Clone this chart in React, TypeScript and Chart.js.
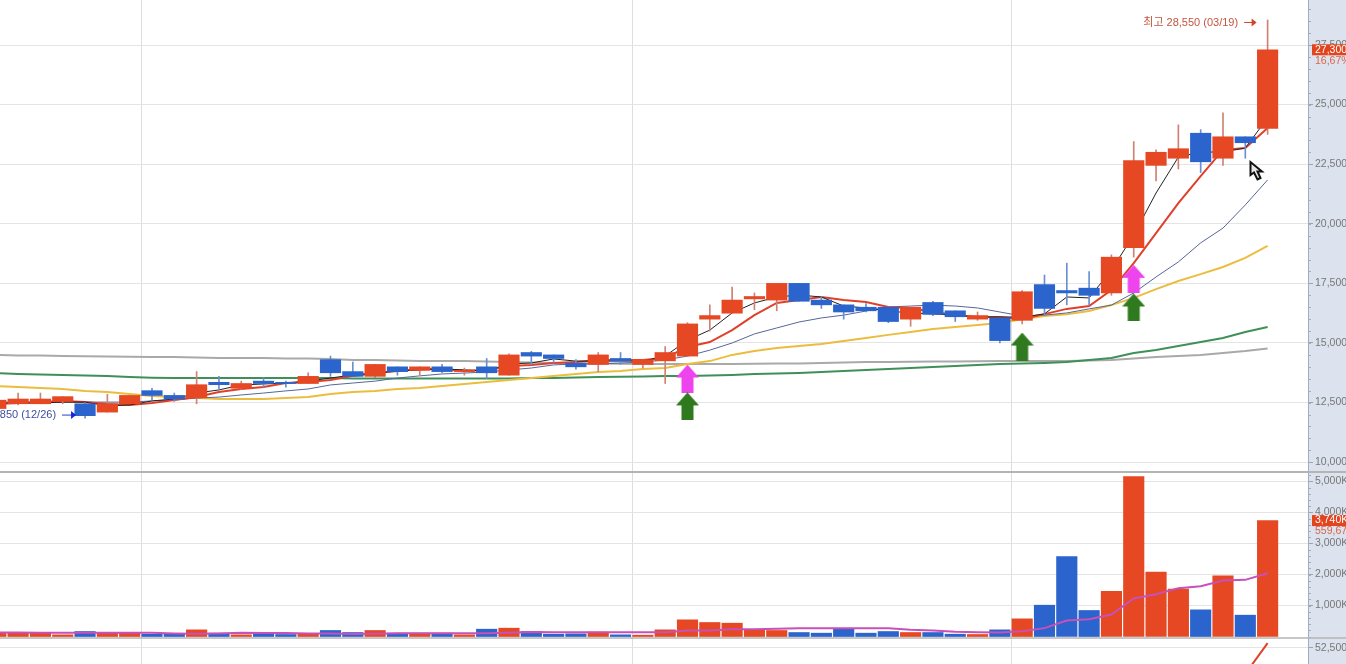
import { useEffect, useRef } from 'react'
import { Chart, registerables } from 'chart.js'

Chart.register(...registerables)

const opens = [
  12250, 12450, 12450, 12550, 12450, 12100, 12450, 13000, 12800, 12700,
  13350, 13100, 13400, 13350, 13300, 14300, 13800, 13600, 14000, 13850,
  14000, 13800, 14000, 13650, 14600, 14500, 14150, 14100, 14350, 14100,
  14250, 14450, 16000, 16250, 16850, 16800, 17500, 16800, 16600, 16500,
  16500, 16000, 16700, 16350, 16000, 16050, 15950, 17450, 17200, 17300,
  17100, 19000, 22450, 22750, 23800, 22750, 23650, 24000,
]
const highs = [
  12600, 12900, 12900, 12750, 12500, 12850, 12800, 13100, 12900, 13800,
  13600, 13400, 13550, 13400, 13750, 14450, 14200, 14100, 14000, 14000,
  14100, 13950, 14350, 14550, 14650, 14500, 14300, 14600, 14600, 14300,
  14850, 15850, 16600, 17350, 17100, 17500, 17500, 16950, 16600, 16650,
  16500, 16500, 16750, 16350, 16300, 16050, 17200, 17850, 18350, 18000,
  18700, 23450, 23100, 24150, 23950, 24650, 23650, 28550,
]
const lows = [
  12250, 12400, 12450, 12450, 11850, 12100, 12450, 12600, 12550, 12450,
  13050, 13050, 13150, 13150, 13300, 13600, 13600, 13550, 13650, 13650,
  13750, 13650, 13500, 13650, 14100, 14150, 13900, 13800, 14100, 13950,
  13300, 14450, 15500, 16250, 16400, 16350, 16750, 16450, 16000, 16300,
  15850, 15700, 16150, 15900, 15950, 15000, 15800, 16150, 16600, 16600,
  17000, 18600, 21800, 22300, 22150, 22450, 22750, 23750,
]
const closes = [
  12600, 12650, 12650, 12750, 11950, 12450, 12800, 12800, 12650, 13250,
  13250, 13300, 13300, 13300, 13600, 13750, 13600, 14100, 13800, 14000,
  13800, 13850, 13750, 14500, 14450, 14350, 14000, 14500, 14250, 14300,
  14600, 15800, 16150, 16800, 16950, 17500, 16750, 16600, 16300, 16350,
  15900, 16500, 16200, 16100, 16150, 15100, 17150, 16450, 17100, 17000,
  18600, 22650, 23000, 23150, 22600, 23650, 23400, 27300,
]

const maBlack = [
  12480, 12480, 12480, 12520, 12520, 12360, 12400, 12570, 12650, 12900,
  13030, 13240, 13280, 13320, 13400, 13530, 13660, 13740, 13820, 13870,
  13910, 13870, 13820, 14120, 14160, 14330, 14240, 14240, 14240, 14240,
  14450, 15120, 15540, 16260, 16680, 16930, 17010, 16930, 16550, 16470,
  16340, 16260, 16220, 16170, 16090, 16090, 16090, 16220, 16930, 16890,
  18060, 19530, 21290, 22800, 23010, 23010, 23180, 24440,
]
const maRed = [
  12440, 12480, 12520, 12570, 12520, 12440, 12400, 12480, 12610, 12730,
  12940, 13070, 13150, 13320, 13360, 13450, 13620, 13740, 13820, 13910,
  13910, 13840, 13870, 14030, 14080, 14160, 14200, 14290, 14290, 14290,
  14370, 14830, 15040, 15540, 16170, 16680, 16800, 16930, 16800, 16720,
  16510, 16470, 16300, 16170, 16090, 16090, 16000, 16210, 16430, 16550,
  17220, 18350, 19610, 20870, 22000, 23100, 23180, 24020,
]
const maNavy = [
  12520, 12520, 12520, 12520, 12520, 12520, 12520, 12570, 12610, 12690,
  12730, 12820, 12900, 12990, 13070, 13240, 13320, 13400, 13530, 13620,
  13700, 13740, 13780, 13870, 13950, 14080, 14120, 14120, 14160, 14200,
  14290, 14450, 14700, 15000, 15380, 15630, 15880, 16050, 16170, 16340,
  16510, 16550, 16590, 16550, 16470, 16300, 16130, 16170, 16260, 16430,
  16590, 17100, 17770, 18400, 19200, 19820, 20790, 21840,
]
const maYellow = [
  13195, 13150, 13110, 13070, 12985, 12940, 12860, 12775, 12730, 12690,
  12650, 12650, 12650, 12690, 12730, 12860, 12940, 12990, 13070, 13110,
  13195, 13280, 13360, 13450, 13530, 13615, 13700, 13780, 13820, 13910,
  13950, 14120, 14240, 14500, 14660, 14790, 14870, 14960, 15080, 15210,
  15340, 15460, 15590, 15670, 15750, 15840, 16000, 16130, 16210, 16340,
  16590, 16890, 17260, 17600, 17890, 18190, 18570, 19070,
]
const maGreen = [
  13740, 13700, 13680, 13660, 13640, 13615, 13570, 13540, 13530, 13530,
  13530, 13530, 13530, 13530, 13530, 13530, 13510, 13510, 13510, 13510,
  13510, 13510, 13510, 13510, 13530, 13530, 13550, 13570, 13585, 13590,
  13615, 13615, 13640, 13660, 13700, 13720, 13740, 13780, 13825, 13870,
  13910, 13950, 13990, 14035, 14075, 14120, 14140, 14160, 14200, 14285,
  14370, 14580, 14705, 14870, 15040, 15210, 15460, 15670,
]
const maGray = [
  14500, 14480, 14470, 14450, 14440, 14430, 14425, 14410, 14410, 14390,
  14370, 14370, 14370, 14350, 14350, 14330, 14290, 14290, 14265, 14245,
  14245, 14245, 14225, 14200, 14180, 14160, 14150, 14140, 14130, 14120,
  14120, 14120, 14120, 14120, 14130, 14140, 14140, 14160, 14180, 14200,
  14200, 14215, 14225, 14225, 14230, 14245, 14245, 14245, 14245, 14265,
  14285, 14350, 14410, 14450, 14500, 14580, 14660, 14770,
]

const volumes = [
  108, 108, 108, 54, 161, 129, 129, 75, 75, 215,
  108, 54, 108, 65, 75, 194, 129, 194, 108, 108,
  108, 54, 236, 269, 161, 75, 86, 140, 54, 43,
  215, 538, 452, 430, 215, 194, 129, 108, 236, 108,
  161, 129, 129, 75, 65, 215, 570, 1010, 2580, 840,
  1460, 5160, 2075, 1527, 860, 1957, 688, 3740,
]
const volumeMa = [
  129, 129, 125, 120, 118, 120, 125, 122, 100, 90,
  100, 120, 115, 110, 100, 95, 85, 90, 108, 108,
  108, 108, 108, 120, 145, 140, 135, 140, 140, 140,
  140, 194, 194, 236, 236, 247, 269, 269, 269, 269,
  269, 215, 194, 150, 140, 130, 172, 270, 516, 560,
  710, 1226, 1366, 1560, 1624, 1806, 1828, 2043,
]

// third pane, only the last stretch of its line shows
const lowerLine = [{ x: 55, y: 48200 }, { x: 56, y: 50350 }, { x: 57, y: 52900 }]

const monthBreaks = [6.53, 28.55, 45.52]
const priceTicks = [10000, 12500, 15000, 17500, 20000, 22500, 25000, 27500]
const volumeTicks = [1000, 2000, 3000, 4000, 5000]
const lowerTicks = [52500]

const greenArrows = [{ x: 31, y: 12340 }, { x: 46, y: 14850 }, { x: 51, y: 16490 }]
const pinkArrows = [{ x: 31, y: 13510 }, { x: 51, y: 17690 }]

const RED = '#e64823'
const BLUE = '#2b64cc'
const AXIS_FONT = '"Liberation Sans", "Noto Sans CJK KR", sans-serif'

const series = (values: number[]) => values.map((y, x) => ({ x, y }))
const isUp = (i: number) => closes[i] >= opens[i]
const fmt = (v: number) => v.toLocaleString('en-US')

function arrowImage(color: string) {
  const c = document.createElement('canvas')
  c.width = 23
  c.height = 28
  const g = c.getContext('2d')!
  g.fillStyle = color
  g.beginPath()
  g.moveTo(11.5, 0)
  g.lineTo(23, 13)
  g.lineTo(17.5, 13)
  g.lineTo(17.5, 28)
  g.lineTo(5.5, 28)
  g.lineTo(5.5, 13)
  g.lineTo(0, 13)
  g.closePath()
  g.fill()
  return c
}

function lineSet(values: number[], color: string, width: number, order: number) {
  return {
    type: 'line' as const,
    data: series(values),
    yAxisID: 'y',
    borderColor: color,
    borderWidth: width,
    pointRadius: 0,
    tension: 0,
    order,
  }
}

function paneTicks(list: number[], suffix: string) {
  return {
    position: 'right' as const,
    stack: 'panes',
    bounds: 'data' as const,
    afterBuildTicks: (s: any) => { s.ticks = list.map(value => ({ value })) },
    afterFit: (s: any) => { s.width = 38; s.paddingTop = 0; s.paddingBottom = 0 },
    grid: { color: '#e4e4e4', tickColor: '#9aa4b4', tickLength: 5 },
    border: { color: '#a4aebd' },
    ticks: {
      autoSkip: false,
      padding: 2,
      color: '#777',
      font: { family: AXIS_FONT, size: 10.5 },
      callback: (v: any) => fmt(v) + suffix,
    },
  }
}

const paneDecor = {
  id: 'paneDecor',
  beforeDraw(chart: any) {
    const { ctx, width, height, chartArea, scales } = chart
    ctx.save()
    ctx.fillStyle = '#dce3ee'
    ctx.fillRect(chartArea.right, 0, width - chartArea.right, height)
    // minor ticks
    ctx.strokeStyle = '#a6afbe'
    ctx.lineWidth = 1
    const minor = (scale: any, from: number, to: number, step: number) => {
      for (let v = from; v <= to; v += step) {
        const y = Math.round(scale.getPixelForValue(v)) + 0.5
        if (y < scale.top || y > scale.bottom) continue
        ctx.beginPath()
        ctx.moveTo(chartArea.right, y)
        ctx.lineTo(chartArea.right + 3, y)
        ctx.stroke()
      }
    }
    minor(scales.y, 10000, 29000, 500)
    minor(scales.yv, 0, 5200, 200)
    ctx.restore()
  },
  afterDraw(chart: any) {
    const { ctx, width, chartArea, scales } = chart
    const { x, y, yv } = scales
    ctx.save()

    // pane separators
    ctx.strokeStyle = '#b4b4b4'
    ctx.lineWidth = 2
    ctx.beginPath()
    ctx.moveTo(0, y.bottom)
    ctx.lineTo(width, y.bottom)
    ctx.stroke()
    ctx.lineWidth = 1.5
    ctx.beginPath()
    ctx.moveTo(0, yv.bottom)
    ctx.lineTo(width, yv.bottom)
    ctx.stroke()

    // last price and volume tags
    const tag = (py: number, label: string, sub: string) => {
      ctx.fillStyle = '#e3441e'
      ctx.fillRect(chartArea.right + 4, py - 5.5, width - chartArea.right - 4, 11)
      ctx.font = `10.5px ${AXIS_FONT}`
      ctx.textAlign = 'left'
      ctx.textBaseline = 'middle'
      ctx.fillStyle = '#fff'
      ctx.fillText(label, chartArea.right + 7, py)
      ctx.fillStyle = '#d9654a'
      ctx.fillText(sub, chartArea.right + 7, py + 11)
    }
    tag(y.getPixelForValue(closes[57]), fmt(closes[57]), '16,67%')
    tag(yv.getPixelForValue(volumes[57]), '3,740K', '559,67')

    // high / low notes
    ctx.font = `11px ${AXIS_FONT}`
    ctx.textBaseline = 'middle'
    const highX = x.getPixelForValue(57)
    const highY = y.getPixelForValue(28550) + 2.5
    ctx.textAlign = 'right'
    ctx.fillStyle = '#c4563f'
    ctx.fillText('최고 28,550 (03/19)', highX - 29.5, highY)
    ctx.strokeStyle = '#d2452a'
    ctx.fillStyle = '#d2452a'
    ctx.lineWidth = 1
    ctx.beginPath()
    ctx.moveTo(highX - 23.5, highY)
    ctx.lineTo(highX - 14, highY)
    ctx.stroke()
    ctx.beginPath()
    ctx.moveTo(highX - 11, highY)
    ctx.lineTo(highX - 16, highY - 4)
    ctx.lineTo(highX - 16, highY + 4)
    ctx.closePath()
    ctx.fill()

    const lowX = x.getPixelForValue(4)
    const lowY = y.getPixelForValue(11850) - 3
    ctx.fillStyle = '#3f4f9e'
    ctx.fillText('11,850 (12/26)', lowX - 29, lowY)
    ctx.strokeStyle = '#2a3fc0'
    ctx.fillStyle = '#1a22e0'
    ctx.beginPath()
    ctx.moveTo(lowX - 23, lowY)
    ctx.lineTo(lowX - 13, lowY)
    ctx.stroke()
    ctx.beginPath()
    ctx.moveTo(lowX - 9, lowY)
    ctx.lineTo(lowX - 14, lowY - 4)
    ctx.lineTo(lowX - 14, lowY + 4)
    ctx.closePath()
    ctx.fill()

    // mouse pointer caught in the screenshot
    ctx.translate(1250.5, 162)
    ctx.fillStyle = '#e8e8e8'
    ctx.strokeStyle = '#111'
    ctx.lineWidth = 2
    ctx.beginPath()
    ctx.moveTo(0, 0)
    ctx.lineTo(0, 13)
    ctx.lineTo(3.5, 10.5)
    ctx.lineTo(7, 17.5)
    ctx.lineTo(10, 16)
    ctx.lineTo(7, 9.5)
    ctx.lineTo(11.5, 9.5)
    ctx.closePath()
    ctx.fill()
    ctx.stroke()
    ctx.restore()
  },
}

export default function App() {
  const canvasRef = useRef<HTMLCanvasElement>(null)

  useEffect(() => {
    if (!canvasRef.current) return
    const chart = new Chart(canvasRef.current, {
      type: 'bar',
      data: {
        datasets: [
          lineSet(maGray, '#a9a9a9', 2, 16),
          lineSet(maGreen, '#3f9058', 2, 15),
          lineSet(maYellow, '#ebbd3f', 2, 14),
          lineSet(maNavy, '#56669a', 1, 13),
          lineSet(maRed, '#e0402a', 2, 12),
          lineSet(maBlack, '#222222', 1, 11),
          {
            data: lows.map((l, i) => ({ x: i, y: [l, highs[i]] })),
            yAxisID: 'y',
            grouped: false,
            barThickness: 1,
            backgroundColor: lows.map((_, i) => (isUp(i) ? '#cf8272' : '#6a8fd0')),
            order: 10,
          },
          {
            data: opens.map((o, i) => ({ x: i, y: [o, closes[i]] })),
            yAxisID: 'y',
            grouped: false,
            barThickness: 20.5,
            backgroundColor: opens.map((_, i) => (isUp(i) ? RED : BLUE)),
            order: 9,
          },
          {
            data: series(volumes),
            yAxisID: 'yv',
            grouped: false,
            barThickness: 20.5,
            backgroundColor: volumes.map((_, i) => (isUp(i) ? RED : BLUE)),
            order: 8,
          },
          {
            type: 'line',
            data: series(volumeMa),
            yAxisID: 'yv',
            borderColor: '#c850b8',
            borderWidth: 2,
            pointRadius: 0,
            tension: 0,
            order: 7,
          },
          {
            type: 'line',
            data: lowerLine,
            yAxisID: 'yl',
            borderColor: '#e0402a',
            borderWidth: 2,
            pointRadius: 0,
            tension: 0,
            order: 6,
          },
          {
            type: 'scatter',
            data: pinkArrows,
            yAxisID: 'y',
            pointStyle: arrowImage('#ee44ee'),
            pointRadius: 10,
            order: 2,
          },
          {
            type: 'scatter',
            data: greenArrows,
            yAxisID: 'y',
            pointStyle: arrowImage('#2f7a1f'),
            pointRadius: 10,
            order: 1,
          },
        ] as any,
      },
      options: {
        responsive: false,
        animation: false,
        layout: { padding: 0, autoPadding: false },
        plugins: { legend: { display: false }, tooltip: { enabled: false } },
        scales: {
          x: {
            type: 'linear',
            min: 0.188,
            max: 58.81,
            bounds: 'data',
            offset: false,
            afterBuildTicks: (s: any) => { s.ticks = monthBreaks.map(value => ({ value })) },
            afterFit: (s: any) => { s.height = 0 },
            grid: { offset: false, color: '#dedede', drawTicks: false },
            border: { display: false },
            ticks: { display: false, autoSkip: false },
          },
          y: { ...paneTicks(priceTicks, ''), min: 9588, max: 29388, stackWeight: 472 },
          yv: { ...paneTicks(volumeTicks, 'K'), min: -48, max: 5306, stackWeight: 166 },
          yl: { ...paneTicks(lowerTicks, ''), min: 51167, max: 53333, stackWeight: 26 },
        },
      } as any,
      plugins: [paneDecor],
    })
    return () => { chart.destroy() }
  }, [])

  return (
    <div style={{ position: 'fixed', left: 0, top: 0, width: 1346, height: 664, background: '#fff' }}>
      <canvas ref={canvasRef} width={1346} height={664} style={{ display: 'block' }} />
    </div>
  )
}
